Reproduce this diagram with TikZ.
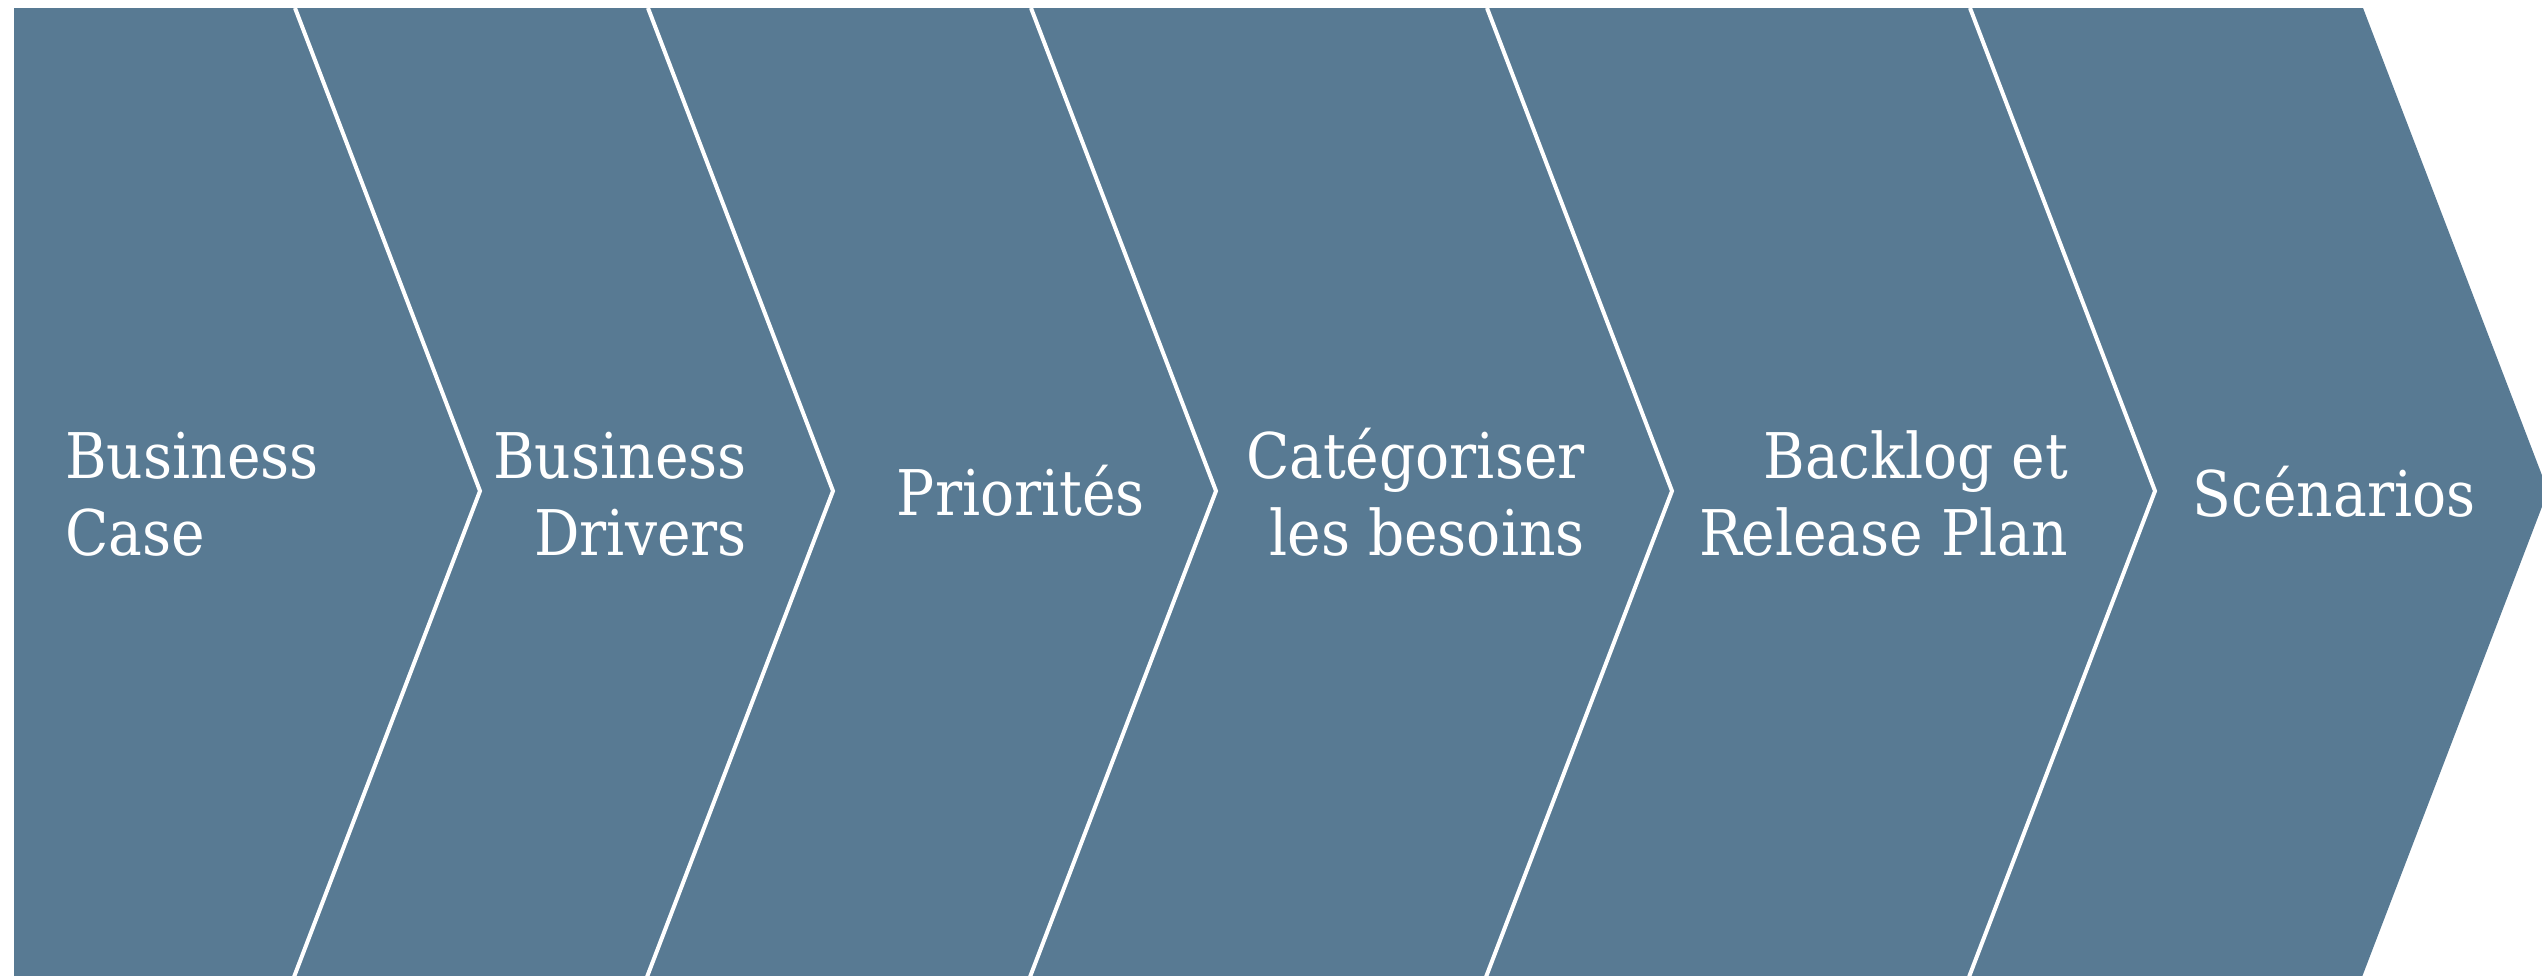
\documentclass[tikz,border=0pt]{standalone}
\usepackage{fontspec}
\setmainfont{DejaVu Serif Condensed}
\definecolor{slate}{RGB}{88,122,147}
\tikzset{
  panelfill/.style={fill=slate, draw=none},
  divider/.style={draw=white, line width=4pt, line join=miter},
  lbl/.style={text=white, font=\fontsize{63}{77}\selectfont, inner sep=0pt},
}
\begin{document}
\begin{tikzpicture}[x=1pt,y=-1pt]
\useasboundingbox (0,0) rectangle (2542,975);
% band of chevrons
\fill[panelfill] (14,8) -- (2363,8) -- (2548,491) -- (2357,990) -- (14,990) -- cycle;
% dividers
\foreach \i/\x in {1/295,2/648,3/1031,4/1487,5/1970}{
  \coordinate (t\i) at (\x,8);
  \coordinate (p\i) at (\x+185,491);
  \coordinate (b\i) at (\x-6,990);
  \draw[divider] (t\i) -- (p\i) -- (b\i);
}
% labels (base anchor = baseline of the last line)
\node[lbl, anchor=base west, align=left]  (l1) at (65,555)   {Business\\Case};
\node[lbl, anchor=base east, align=right] (l2) at (747,555)  {Business\\Drivers};
\node[lbl, anchor=base]                   (l3) at (1021,515) {Priorités};
\node[lbl, anchor=base east, align=right] (l4) at (1585,555) {Catégoriser\\les besoins};
\node[lbl, anchor=base east, align=right] (l5) at (2068,555) {Backlog et\\Release Plan};
\node[lbl, anchor=base]                   (l6) at (2334,516) {Scénarios};
\end{tikzpicture}
\end{document}
